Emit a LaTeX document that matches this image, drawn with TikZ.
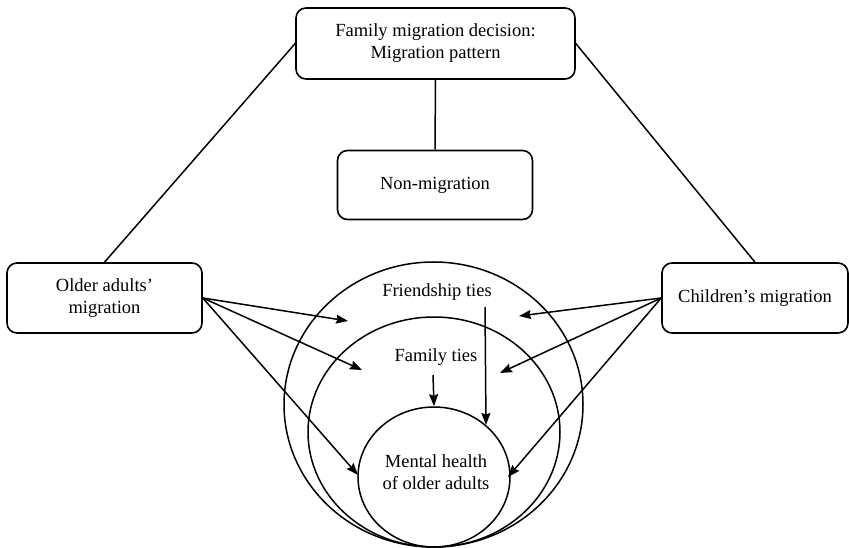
\documentclass[tikz,border=0pt]{standalone}
\usepackage{fontspec}
\setmainfont{Liberation Serif}
\usetikzlibrary{shapes.geometric,arrows.meta}
\begin{document}
\begin{tikzpicture}[x=1pt,y=-1pt,
  box/.style={draw, rounded corners=10pt, line width=1.6pt, inner sep=0pt, align=center},
  ring/.style={draw, ellipse, line width=1.5pt, inner sep=0pt},
  lbl/.style={align=center, inner sep=0pt},
  conn/.style={line width=1.5pt},
  arr/.style={line width=1.5pt, -{Stealth[length=12pt,width=9pt,inset=1.5pt]}},
  every node/.append style={font=\fontsize{18.5}{22}\selectfont}]
\useasboundingbox (0,0) rectangle (849,548);
% boxes
\node[box, minimum width=279pt, minimum height=71pt] (top) at (435.5,43.5) {Family migration decision:\\Migration pattern};
\node[box, minimum width=195pt, minimum height=69pt] (non) at (435,185) {Non-migration};
\node[box, minimum width=195pt, minimum height=70pt] (older) at (104.5,298) {Older adults’\\migration};
\node[box, minimum width=186pt, minimum height=70pt] (child) at (755,298) {Children’s migration};
% ellipses
\node[ring, minimum width=299pt, minimum height=285pt] (outer) at (433.5,404.5) {};
\node[ring, minimum width=252pt, minimum height=230pt] (middle) at (434,432) {};
\node[ring, minimum width=152pt, minimum height=140pt] (inner) at (434,477) {};
% labels
\node[lbl] (friend) at (437,292) {Friendship ties};
\node[lbl] (family) at (436,357) {Family ties};
\node[lbl] (mental) at (436,472) {Mental health\\of older adults};
% connectors
\draw[conn] (top.west) -- (older.north);
\draw[conn] (top.east) -- (child.north);
\draw[conn] (top.south) -- (non.north);
% arrow ends
\coordinate (l1) at (348,321);
\coordinate (l2) at (362,370);
\coordinate (l3) at (358,475);
\coordinate (r1) at (519,316);
\coordinate (r2) at (500,373);
\coordinate (r3) at (508,477);
\coordinate (fs) at (485,307);
\coordinate (fe) at (486,425);
\coordinate (ms) at (433,375);
\draw[arr] (older.east) -- (l1);
\draw[arr] (older.east) -- (l2);
\draw[arr] (older.east) -- (l3);
\draw[arr] (child.west) -- (r1);
\draw[arr] (child.west) -- (r2);
\draw[arr] (child.west) -- (r3);
\draw[arr] (fs) -- (fe);
\draw[arr] (ms) -- (inner.north);
\end{tikzpicture}
\end{document}
